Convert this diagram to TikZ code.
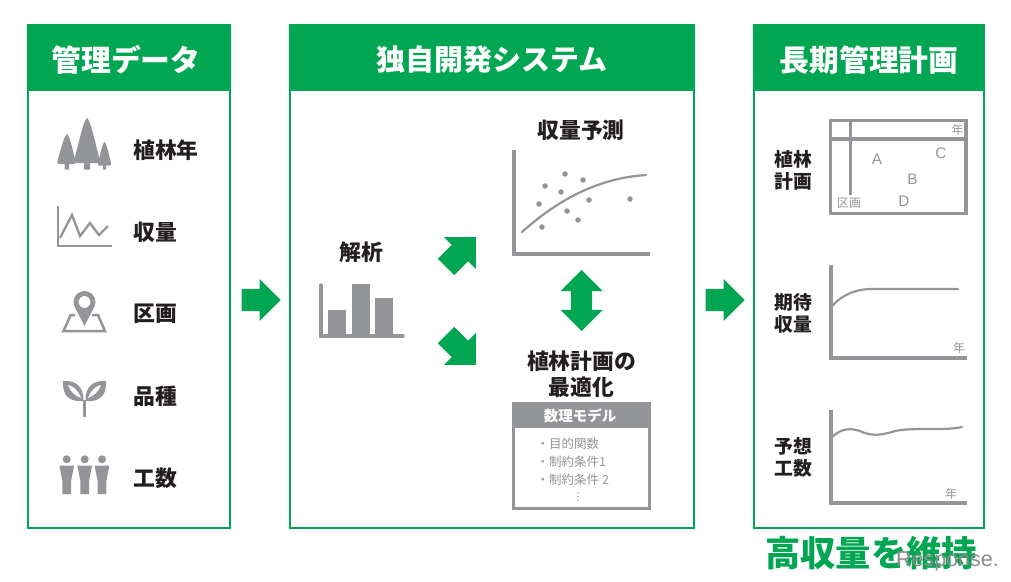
\documentclass[tikz,border=0pt]{standalone}
\usepackage{fontspec}
\setmainfont{Noto Sans CJK JP}
\newfontfamily\boldjp{Noto Sans CJK JP Black}
\newfontfamily\latinfont{Liberation Sans}
\newfontfamily\symbolfont{DejaVu Sans}
\usetikzlibrary{arrows.meta, positioning, shapes.arrows}
\definecolor{leaf}{HTML}{00A651}
\definecolor{icon}{HTML}{939598}
\definecolor{ink}{HTML}{231F20}
\tikzset{
  panel/.style={draw=leaf, line width=2.4pt, fill=white},
  banner/.style={fill=leaf, inner sep=0pt, anchor=north west, minimum height=66pt},
  bannertext/.style={font=\fontsize{#1}{#1}\selectfont\boldjp, text=white, inner sep=0pt},
  item/.style={font=\fontsize{21.8}{26}\selectfont\boldjp, text=ink, align=center, inner sep=0pt},
  sideitem/.style={font=\fontsize{18.8}{22}\selectfont\boldjp, text=ink, align=center, inner sep=0pt},
  small/.style={font=\fontsize{12.5}{12.5}\selectfont, text=icon, inner sep=0pt},
  tiny/.style={font=\fontsize{12}{12}\selectfont, text=icon, inner sep=0pt},
  letter/.style={font=\fontsize{15.3}{15.3}\selectfont\latinfont, text=icon, inner sep=0pt},
  axis/.style={draw=icon, line width=3.2pt},
  curve/.style={draw=icon, line width=2.2pt, line cap=round},
  dot/.style={circle, fill=icon, inner sep=0pt, minimum size=5.5pt},
  bigarrow/.style={single arrow, fill=leaf, inner xsep=0pt, inner ysep=11pt, anchor=tip, minimum height=39pt, single arrow head extend=10pt},
  sidearrow/.style={bigarrow, inner ysep=11.3pt, minimum height=42pt, single arrow head extend=11pt},
}
\begin{document}
\begin{tikzpicture}[x=1pt, y=-1pt]
  \useasboundingbox (0,0) rectangle (1011,581);

  % three panels
  \draw[panel] (28,25) rectangle (230,528);
  \draw[panel] (290,25) rectangle (694,528);
  \draw[panel] (754,25) rectangle (984,528);
  \node[banner, minimum width=203pt] (dataHead) at (27,25) {};
  \node[banner, minimum width=405pt] (systemHead) at (289,25) {};
  \node[banner, minimum width=231pt] (planHead) at (753,25) {};
  \node[bannertext=29.8] (dataText) at (126,60) {管理データ};
  \node[bannertext=29] (systemText) at (492,60) {独自開発システム};
  \node[bannertext=29.8] (planText) at (869,60) {長期管理計画};

  % left column
  \node[item, anchor=west] (yearLabel) at (133,150) {植林年};
  \node[item, anchor=west] (yieldLabel) at (133,232) {収量};
  \node[item, anchor=west] (blockLabel) at (133,314) {区画};
  \node[item, anchor=west] (breedLabel) at (133,396) {品種};
  \node[item, anchor=west] (laborLabel) at (133,478) {工数};

  % trees
  \fill[icon] (87,118) .. controls (91,120) and (96,148) .. (100,160) .. controls (100.5,162) and (99,163) .. (97,163) -- (90,163) -- (90,169.5) -- (84,169.5) -- (84,163) -- (77,163) .. controls (75,163) and (73.5,162) .. (74,160) .. controls (78,148) and (83,120) .. (87,118) -- cycle;
  \fill[icon] (67,134) .. controls (70,136) and (73,152) .. (75.5,161) .. controls (76,163) and (75,164) .. (74,164) -- (69,164) -- (69,169.5) -- (64.5,169.5) -- (64.5,164) -- (59,164) .. controls (58,164) and (57,163) .. (57.5,161) .. controls (60,152) and (64,136) .. (67,134) -- cycle;
  \fill[icon] (104.5,142) .. controls (107,144) and (109,156) .. (111,163) .. controls (111.5,165) and (110.5,165.5) .. (109.5,165.5) -- (106,165.5) -- (106,169.5) -- (103,169.5) -- (103,165.5) -- (99.5,165.5) .. controls (98.5,165.5) and (97.5,165) .. (98,163) .. controls (100,156) and (102,144) .. (104.5,142) -- cycle;

  % yield icon
  \draw[draw=icon, line width=2.6pt] (58,206) -- (58,246) -- (112,246);
  \draw[draw=icon, line width=2.3pt] (60,238) -- (72,215) -- (80,236) -- (90,223) -- (99,235) -- (108,226);

  % map pin
  \draw[draw=icon, line width=2.5pt] (75,315) -- (70.7,315) -- (63.5,331) -- (105,331) -- (98,315) -- (92,315);
  \fill[icon, even odd rule] (84.5,302) circle (11) (84.5,302) circle (6);
  \fill[icon] (74.5,306.5) -- (84.5,326) -- (94.5,306.5) -- (89,309.5) -- (80,309.5) -- cycle;

  % sprout
  \fill[icon] (63,381) .. controls (62,398) and (72,402) .. (83.5,401) .. controls (84,388) and (77,380) .. (63,381) -- cycle;
  \fill[icon] (106,381) .. controls (107,398) and (97,402) .. (85.5,401) .. controls (85,388) and (92,380) .. (106,381) -- cycle;
  \fill[white] (68,385) .. controls (74,386) and (79,392) .. (81,398) .. controls (75,396) and (70,391) .. (68,385) -- cycle;
  \fill[white] (101,385) .. controls (95,386) and (90,392) .. (88,398) .. controls (94,396) and (99,391) .. (101,385) -- cycle;
  \fill[icon] (83.2,400) rectangle (85.8,417);

  % people
  \foreach \px in {66.7,84.7,102}{
    \fill[icon] (\px,459.3) circle (4);
    \fill[icon] (\px-7.4,465.7) -- (\px+7.4,465.7) -- (\px+4.3,481) -- (\px+4.3,494) -- (\px-4.3,494) -- (\px-4.3,481) -- cycle;
  }

  % flow arrows between panels
  \node[bigarrow] (arrowIn) at (281,300) {};
  \node[bigarrow] (arrowOut) at (745,300) {};

  % analysis
  \node[item] (analysisLabel) at (361,252) {解析};
  \draw[axis, line cap=round] (321,285) -- (321,336) -- (403,336);
  \fill[icon] (328,310) rectangle (346,336);
  \fill[icon] (352,284) rectangle (370,336);
  \fill[icon] (375,298) rectangle (393,336);
  \node[sidearrow, rotate=45] (arrowUp) at (476,237) {};
  \node[sidearrow, rotate=-45] (arrowDown) at (476,365) {};

  % forecast
  \node[item] (forecastLabel) at (581,130) {収量予測};
  \draw[axis] (514,150) -- (514,254) -- (650,254);
  \draw[curve] (522,232) .. controls (560,198) and (600,178) .. (646,175);
  \foreach \dx/\dy in {565/174, 545/186, 583/180, 561/192, 539/204, 589/200, 630/199, 567/211, 578/220, 542/227}{
    \node[dot] at (\dx,\dy) {};
  }
  \node[double arrow, fill=leaf, rotate=90, inner xsep=0pt, inner ysep=10.5pt, minimum height=61pt, double arrow head extend=10.5pt] (arrowBoth) at (581.5,300.5) {};

  % optimisation
  \node[item] (optimumLabel) at (581.5,374) {植林計画の\\最適化};
  \draw[draw=icon, line width=3pt, fill=white] (513.5,403.5) rectangle (649.5,508.5);
  \fill[icon] (512,402) rectangle (651,428);
  \node[font=\fontsize{14.5}{14.5}\selectfont\boldjp, text=white, inner sep=0pt] (modelHead) at (580,416) {数理モデル};
  \node[small, anchor=west] (goalText) at (536.5,444) {・目的関数};
  \node[small, anchor=west] (limitOne) at (536.5,462) {・制約条件1};
  \node[small, anchor=west] (limitTwo) at (536.5,480) {・制約条件 2};
  \node[small, font=\fontsize{11}{11}\selectfont\symbolfont] (moreText) at (578,497) {⋮};

  % planting plan
  \node[sideitem] (planLabel) at (793,170) {植林\\計画};
  \draw[draw=icon, line width=3.4pt] (830.7,120.7) rectangle (966,213.3);
  \draw[draw=icon, line width=3.4pt] (830.7,139) -- (966,139);
  \draw[draw=icon, line width=3pt] (850.3,120.7) -- (850.3,195);
  \node[tiny] (planYear) at (957.5,130) {年};
  \node[tiny] (planBlock) at (849,203.5) {区画};
  \node[letter] (blockA) at (877,159) {A};
  \node[letter] (blockB) at (912.5,179) {B};
  \node[letter] (blockC) at (941,153) {C};
  \node[letter] (blockD) at (904,201) {D};

  % expected yield
  \node[sideitem] (expectLabel) at (793,313) {期待\\収量};
  \draw[axis] (831,265) -- (831,358) -- (967,358);
  \draw[curve] (832,306) .. controls (845,292) and (860,289) .. (872,289) -- (958,289);
  \node[tiny] (expectYear) at (959,348) {年};

  % expected labour
  \node[sideitem] (laborPlan) at (793,457) {予想\\工数};
  \draw[axis] (831,410) -- (831,503) -- (967,503);
  \draw[curve] (832,437) .. controls (842,428) and (850,428) .. (860,431) .. controls (870,436) and (880,436) .. (895,431) .. controls (915,427) and (945,431) .. (962,427);
  \node[tiny] (laborYear) at (951,494) {年};

  % result line
  \node[font=\fontsize{35.3}{35.3}\selectfont\boldjp, text=leaf, inner sep=0pt] (resultText) at (871,553) {高収量を維持};
  \node[font=\fontsize{21.5}{21.5}\selectfont\latinfont, text=black!45, inner sep=0pt, anchor=east] (markText) at (999,561) {Response.};
\end{tikzpicture}
\end{document}
